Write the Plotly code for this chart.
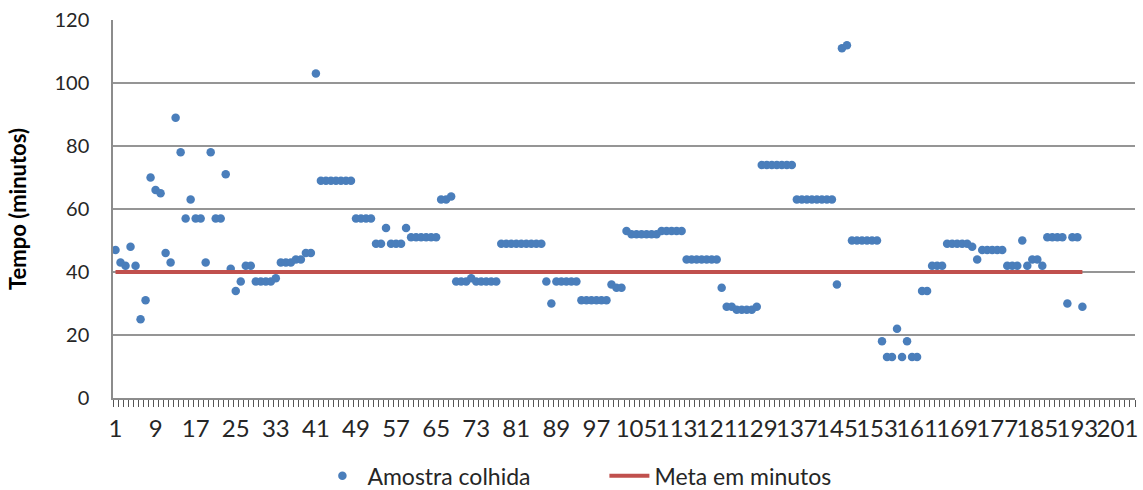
import plotly.graph_objects as go

# Tempo de cada amostra colhida (minutos), pela ordem de recolha
amostra_colhida = [
    47, 43, 42, 48, 42, 25, 31, 70, 66, 65,
    46, 43, 89, 78, 57, 63, 57, 57, 43, 78,
    57, 57, 71, 41, 34, 37, 42, 42, 37, 37,
    37, 37, 38, 43, 43, 43, 44, 44, 46, 46,
    103, 69, 69, 69, 69, 69, 69, 69, 57, 57,
    57, 57, 49, 49, 54, 49, 49, 49, 54, 51,
    51, 51, 51, 51, 51, 63, 63, 64, 37, 37,
    37, 38, 37, 37, 37, 37, 37, 49, 49, 49,
    49, 49, 49, 49, 49, 49, 37, 30, 37, 37,
    37, 37, 37, 31, 31, 31, 31, 31, 31, 36,
    35, 35, 53, 52, 52, 52, 52, 52, 52, 53,
    53, 53, 53, 53, 44, 44, 44, 44, 44, 44,
    44, 35, 29, 29, 28, 28, 28, 28, 29, 74,
    74, 74, 74, 74, 74, 74, 63, 63, 63, 63,
    63, 63, 63, 63, 36, 111, 112, 50, 50, 50,
    50, 50, 50, 18, 13, 13, 22, 13, 18, 13,
    13, 34, 34, 42, 42, 42, 49, 49, 49, 49,
    49, 48, 44, 47, 47, 47, 47, 47, 42, 42,
    42, 50, 42, 44, 44, 42, 51, 51, 51, 51,
    30, 51, 51, 29,
]
meta_minutos = 40
n_categorias = 204
amostras = list(range(1, len(amostra_colhida) + 1))
meta = [meta_minutos for _ in amostras]
rotulos_x = list(range(1, n_categorias + 1, 8))
valores_y = [0, 20, 40, 60, 80, 100, 120]

FONT = "Lato"
TXT = "#262626"

fig = go.Figure()
fig.add_trace(go.Scatter(
    x=amostras, y=amostra_colhida, mode="markers", name="Amostra colhida",
    marker=dict(color="#4A7EBB", size=8.5, line=dict(width=0)),
))
fig.add_trace(go.Scatter(
    x=amostras, y=meta, mode="lines", name="Meta em minutos",
    line=dict(color="#C0504D", width=4),
))

fig.update_layout(
    width=1143, height=490,
    margin=dict(l=113, r=8, t=20, b=91.5, autoexpand=False),
    paper_bgcolor="white", plot_bgcolor="white",
    font=dict(family=FONT, color=TXT, size=20),
    showlegend=True,
    legend=dict(
        orientation="h", x=0.2, xanchor="left", y=-0.206, yanchor="middle",
        font=dict(family=FONT, size=23, color=TXT), itemwidth=40,
        entrywidth=232, entrywidthmode="pixels",
        bgcolor="rgba(0,0,0,0)",
    ),
)
fig.update_xaxes(
    range=[0.5, n_categorias + 0.5],
    tickmode="array", tickvals=rotulos_x, ticktext=[str(v) for v in rotulos_x],
    tickangle=0, ticklabelstandoff=8,
    ticks="", showgrid=False, zeroline=False,
    showline=True, linecolor="#8C8C8C", linewidth=1.5,
    tickfont=dict(family=FONT, size=24, color=TXT),
    minor=dict(tickmode="array",
               tickvals=[k + 0.5 for k in range(0, n_categorias + 1)],
               ticks="outside", ticklen=7, tickcolor="#555555", tickwidth=1,
               showgrid=False),
)
fig.update_yaxes(
    range=[0, 120], tickmode="array", tickvals=valores_y,
    showgrid=True, gridcolor="#959595", gridwidth=1.5,
    zeroline=False, showline=True, linecolor="#8C8C8C", linewidth=1.5,
    ticks="", ticklabelstandoff=18,
    tickfont=dict(family=FONT, size=20, color=TXT),
    title=dict(text="<b>Tempo (minutos)</b>", standoff=22,
               font=dict(family=FONT, size=22, color="#000000")),
)

fig.write_html("out.html")
